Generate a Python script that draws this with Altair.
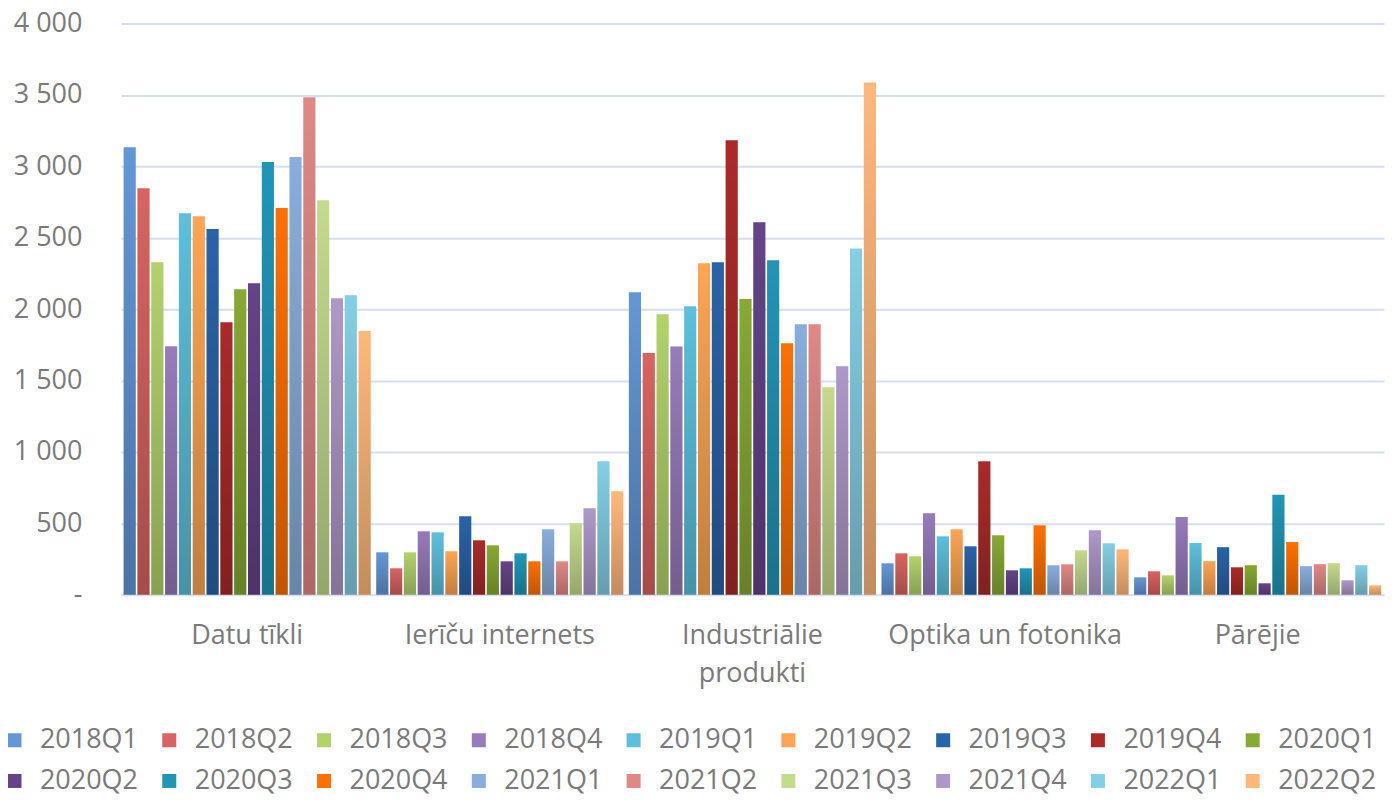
import altair as alt
import pandas as pd

categories = ["Datu tīkli", "Ierīču internets", "Industriālie produkti",
              "Optika un fotonika", "Pārējie"]
quarters = ["2018Q1", "2018Q2", "2018Q3", "2018Q4", "2019Q1", "2019Q2",
            "2019Q3", "2019Q4", "2020Q1", "2020Q2", "2020Q3", "2020Q4",
            "2021Q1", "2021Q2", "2021Q3", "2021Q4", "2022Q1", "2022Q2"]

datu_tikli = [3134, 2847, 2329, 1740, 2672, 2651, 2561, 1908, 2140,
              2182, 3030, 2708, 3065, 3484, 2762, 2076, 2097, 1846]
iericu_internets = [297, 185, 297, 444, 437, 304, 549, 381, 346,
                    234, 290, 234, 458, 234, 500, 605, 935, 724]
industrialie = [2118, 1692, 1964, 1739, 2021, 2321, 2328, 3183, 2071,
                2608, 2343, 1761, 1895, 1895, 1453, 1600, 2425, 3587]
optika = [220, 290, 269, 570, 409, 458, 339, 935, 416,
          171, 185, 486, 206, 213, 311, 451, 360, 318]
parejie = [122, 164, 136, 545, 362, 235, 333, 192, 207,
           80, 700, 369, 200, 214, 221, 101, 207, 66]

colors = ["#6397d6", "#d96360", "#b2d26c", "#977bbb", "#5cc0dc", "#fda552",
          "#2963a8", "#ab2a28", "#86aa32", "#654388", "#2096b6", "#ff7000",
          "#89aedc", "#e08886", "#c4da8d", "#ae98c8", "#84cfe4", "#ffb87a"]

series_by_cat = [datu_tikli, iericu_internets, industrialie, optika, parejie]
rows = []
for cat, vals in zip(categories, series_by_cat):
    for q, v in zip(quarters, vals):
        rows.append({"kategorija": cat, "ceturksnis": q, "vertiba": v})
df = pd.DataFrame(rows)

FONT = "Open Sans"
TXT = "#7a7a7a"

x_enc = alt.X("kategorija:N", sort=categories,
              scale=alt.Scale(paddingInner=0, paddingOuter=0),
              axis=alt.Axis(title=None, labelAngle=0, domain=False, ticks=False,
                            labelFontSize=27, labelFont=FONT, labelColor=TXT,
                            labelPadding=28, labelLineHeight=38, labelLimit=400,
                            labelExpr="datum.label == 'Industriālie produkti' ? ['Industriālie', 'produkti'] : datum.label"))
xo_enc = alt.XOffset("ceturksnis:N", sort=quarters,
                     scale=alt.Scale(paddingInner=0.12, paddingOuter=0.2))
y_enc = alt.Y("vertiba:Q",
              scale=alt.Scale(domain=[0, 4000], nice=False),
              axis=alt.Axis(title=None, values=[0, 500, 1000, 1500, 2000, 2500, 3000, 3500, 4000],
                            domain=False, ticks=False, labelFontSize=27, labelFont=FONT,
                            labelColor=TXT, labelPadding=39,
                            gridColor="#d5dff0", gridWidth=2,
                            labelExpr="datum.value == 0 ? '-' : replace(format(datum.value, ','), ',', ' ')"))

bars = alt.Chart(df).mark_bar().encode(
    x=x_enc, xOffset=xo_enc, y=y_enc,
    color=alt.Color("ceturksnis:N", sort=quarters,
                    scale=alt.Scale(domain=quarters, range=colors),
                    legend=alt.Legend(title=None, orient="none", direction="horizontal",
                                      legendX=-120, legendY=704, padding=0,
                                      columns=9, symbolType="square", symbolSize=196,
                                      symbolStrokeWidth=0, labelFontSize=27, labelFont=FONT,
                                      labelColor=TXT, labelOffset=12, columnPadding=17,
                                      rowPadding=13, labelLimit=200)),
)

shade = alt.Gradient(
    gradient="linear", x1=0, y1=0, x2=0, y2=1,
    stops=[alt.GradientStop(color="rgba(0,0,0,0)", offset=0),
           alt.GradientStop(color="rgba(0,0,0,0.24)", offset=1)])

overlay = alt.Chart(df).mark_bar(fill=shade).encode(
    x=x_enc, xOffset=xo_enc, y=y_enc,
)

chart = alt.layer(bars, overlay).properties(
    width=1265, height=572,
    autosize=alt.AutoSizeParams(type="none"),
    padding={"left": 113, "top": 15, "right": 4, "bottom": 200},
).configure_view(strokeWidth=0)

chart.save("out.html", embed_options={"renderer": "svg", "actions": False})
